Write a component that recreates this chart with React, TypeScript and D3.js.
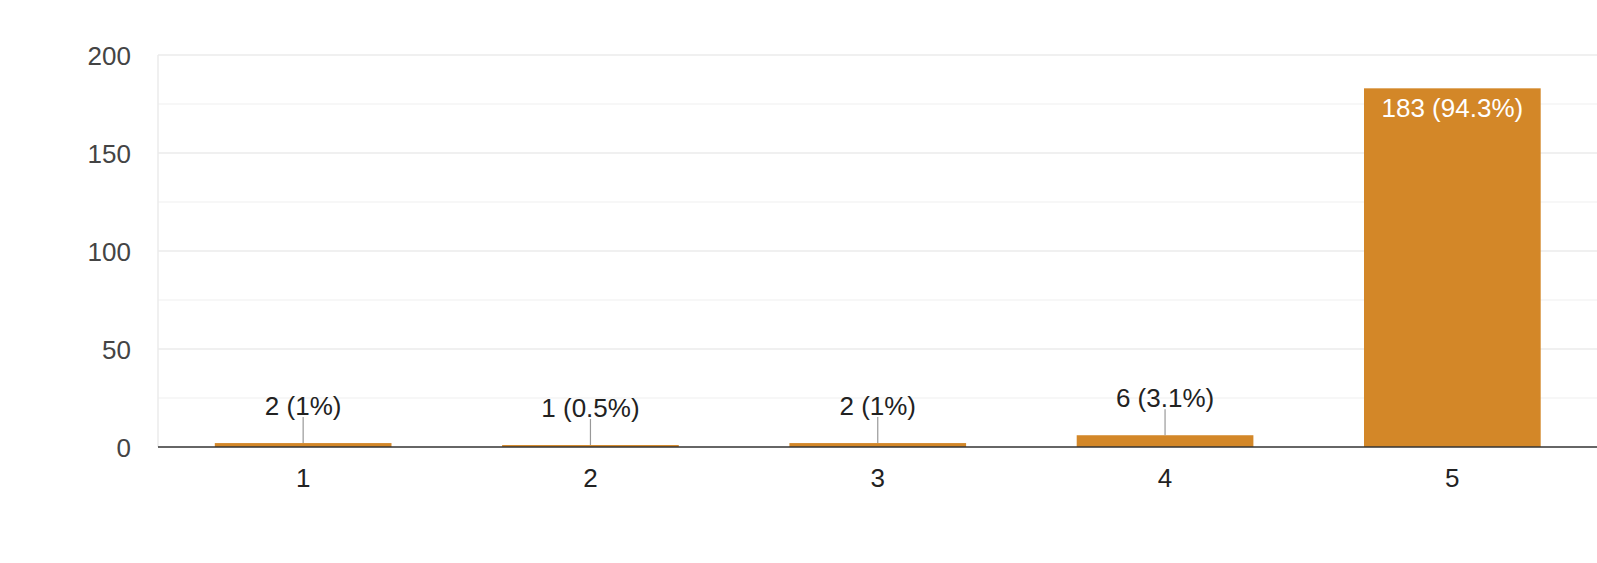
import React, { useEffect, useRef } from 'react';
import * as d3 from 'd3';

const categories = ['1', '2', '3', '4', '5'];
const counts = [2, 1, 2, 6, 183];
const percentLabels = ['1%', '0.5%', '1%', '3.1%', '94.3%'];
const yTicks = [0, 50, 100, 150, 200];
const yMinorTicks = [25, 75, 125, 175];

const W = 1597;
const H = 563;

const App = () => {
    const svgRef = useRef<SVGSVGElement | null>(null);

    useEffect(() => {
        if (!svgRef.current) return;
        const svg = d3.select(svgRef.current);
        svg.selectAll('*').remove();

        const plotLeft = 158;
        const plotTop = 55;
        const plotBottom = 447;

        const x = d3.scaleBand<string>()
            .domain(categories)
            .range([159.5, 1596])
            .paddingInner(0.385)
            .paddingOuter(0.1925);

        const y = d3.scaleLinear()
            .domain([0, 200])
            .range([plotBottom, plotTop]);

        const font = '"Liberation Sans", Arial, sans-serif';
        const fs = 26;

        // minor grid
        svg.append('g')
            .selectAll('line')
            .data(yMinorTicks)
            .join('line')
            .attr('x1', plotLeft)
            .attr('x2', W)
            .attr('y1', d => y(d))
            .attr('y2', d => y(d))
            .attr('stroke', '#f4f4f4')
            .attr('stroke-width', 1.5);

        // major grid
        svg.append('g')
            .selectAll('line')
            .data(yTicks.filter(d => d !== 0))
            .join('line')
            .attr('x1', plotLeft)
            .attr('x2', W)
            .attr('y1', d => y(d))
            .attr('y2', d => y(d))
            .attr('stroke', '#ebebeb')
            .attr('stroke-width', 1.5);

        // left frame line
        svg.append('line')
            .attr('x1', plotLeft)
            .attr('x2', plotLeft)
            .attr('y1', y(200))
            .attr('y2', y(0))
            .attr('stroke', '#ebebeb')
            .attr('stroke-width', 1.5);

        // y tick labels
        svg.append('g')
            .selectAll('text')
            .data(yTicks)
            .join('text')
            .attr('x', 131)
            .attr('y', d => y(d) + 9.5)
            .attr('text-anchor', 'end')
            .attr('font-family', font)
            .attr('font-size', fs)
            .attr('fill', '#444')
            .text(d => d);

        const data = categories.map((c, i) => ({ cat: c, value: counts[i], pct: percentLabels[i] }));

        // bars
        svg.append('g')
            .selectAll('rect')
            .data(data)
            .join('rect')
            .attr('x', d => x(d.cat)!)
            .attr('width', x.bandwidth())
            .attr('y', d => y(d.value))
            .attr('height', d => y(0) - y(d.value))
            .attr('fill', '#d38728');

        // baseline
        svg.append('line')
            .attr('x1', plotLeft)
            .attr('x2', W)
            .attr('y1', y(0))
            .attr('y2', y(0))
            .attr('stroke', '#333')
            .attr('stroke-width', 1.5);

        // x labels
        svg.append('g')
            .selectAll('text')
            .data(categories)
            .join('text')
            .attr('x', d => x(d)! + x.bandwidth() / 2)
            .attr('y', 487)
            .attr('text-anchor', 'middle')
            .attr('font-family', font)
            .attr('font-size', fs)
            .attr('fill', '#222')
            .text(d => d);

        // data labels
        const small = data.filter(d => y(0) - y(d.value) < 40);
        const big = data.filter(d => y(0) - y(d.value) >= 40);

        svg.append('g')
            .selectAll('line')
            .data(small)
            .join('line')
            .attr('x1', d => x(d.cat)! + x.bandwidth() / 2)
            .attr('x2', d => x(d.cat)! + x.bandwidth() / 2)
            .attr('y1', d => y(d.value) - 26)
            .attr('y2', d => y(d.value))
            .attr('stroke', '#999')
            .attr('stroke-width', 1.2);

        svg.append('g')
            .selectAll('text')
            .data(small)
            .join('text')
            .attr('x', d => x(d.cat)! + x.bandwidth() / 2)
            .attr('y', d => y(d.value) - 28.5)
            .attr('text-anchor', 'middle')
            .attr('font-family', font)
            .attr('font-size', fs)
            .attr('fill', '#222')
            .text(d => `${d.value} (${d.pct})`);

        svg.append('g')
            .selectAll('text')
            .data(big)
            .join('text')
            .attr('x', d => x(d.cat)! + x.bandwidth() / 2)
            .attr('y', d => y(d.value) + 28.5)
            .attr('text-anchor', 'middle')
            .attr('font-family', font)
            .attr('font-size', fs)
            .attr('fill', '#fff')
            .text(d => `${d.value} (${d.pct})`);
    }, []);

    return (
        <svg
            ref={svgRef}
            width={W}
            height={H}
            style={{ position: 'absolute', left: 0, top: 0, background: '#fff' }}
        />
    );
};

export default App;
